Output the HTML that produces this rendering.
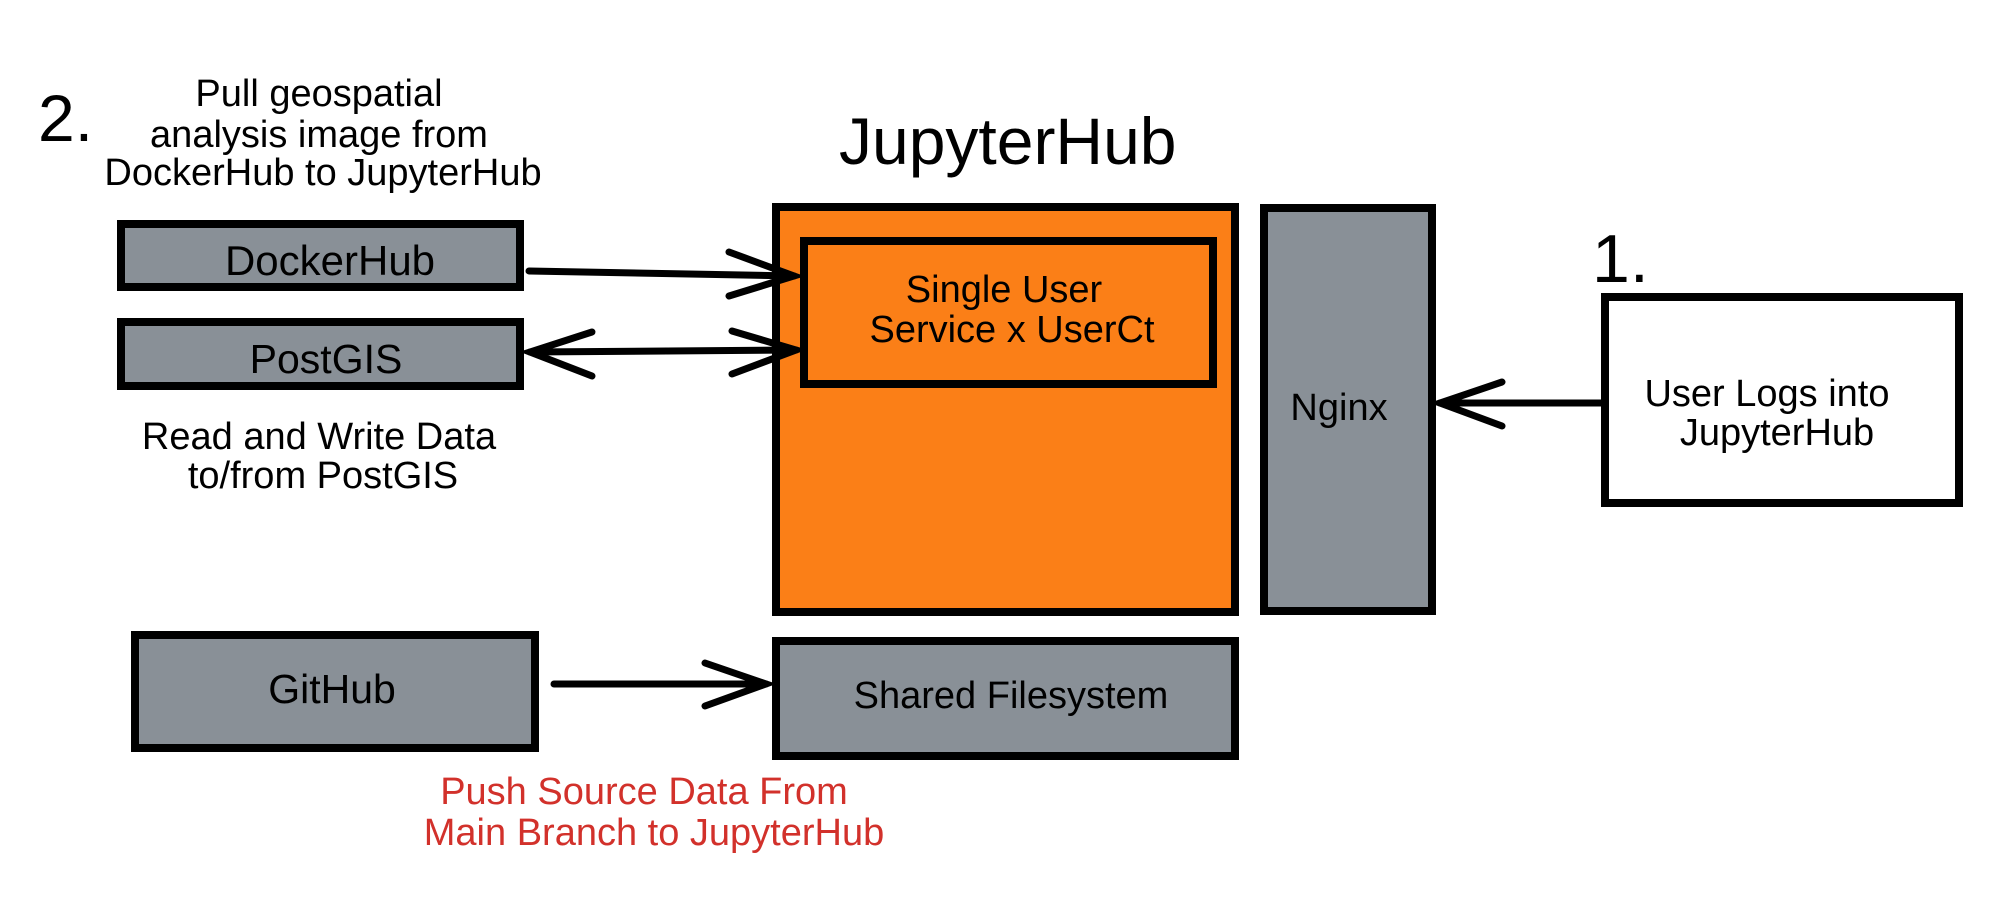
<!DOCTYPE html>
<html><head><meta charset="utf-8"><style>
html,body{margin:0;padding:0;background:#fff;}
svg{display:block;}
text{font-family:"Liberation Sans",Arial,sans-serif;}
</style></head><body>
<svg width="1996" height="902" viewBox="0 0 1996 902" xmlns="http://www.w3.org/2000/svg">
<rect width="1996" height="902" fill="#fff"/>
<g stroke="#000" stroke-width="8">
<rect x="121" y="224" width="399" height="63" fill="#899097"/>
<rect x="121" y="322" width="399" height="64" fill="#899097"/>
<rect x="135" y="635" width="400" height="113" fill="#899097"/>
<rect x="776" y="207" width="459" height="405" fill="#fb7f17"/>
<rect x="804" y="241" width="409" height="143" fill="#fb7f17"/>
<rect x="1264" y="208" width="168" height="403" fill="#899097"/>
<rect x="776" y="641" width="459" height="115" fill="#899097"/>
<rect x="1605" y="297" width="354" height="206" fill="#fff"/>
</g>
<g stroke="#000" stroke-width="7" fill="none" stroke-linecap="round">
<line x1="529" y1="271" x2="794" y2="276"/>
<polyline points="729,252 794,276 729,296"/>
<line x1="530" y1="352" x2="796" y2="350"/>
<polyline points="592,332 530,352 592,376"/>
<polyline points="732,331 796,350 732,374"/>
<line x1="554" y1="684" x2="766" y2="684"/>
<polyline points="705,663 766,684 705,706"/>
<line x1="1601" y1="403" x2="1440" y2="403"/>
<polyline points="1502,382 1440,403 1502,426"/>
</g>
<g fill="#000">
<text x="38" y="141" font-size="66">2.</text>
<text x="1592" y="282" font-size="68">1.</text>
<text x="839" y="164" font-size="66">JupyterHub</text>
<g font-size="38" text-anchor="middle">
<text x="319" y="106">Pull geospatial</text>
<text x="319" y="147">analysis image from</text>
<text x="323" y="185">DockerHub to JupyterHub</text>
<text x="330" y="275" font-size="42">DockerHub</text>
<text x="326" y="373" font-size="41">PostGIS</text>
<text x="319" y="449">Read and Write Data</text>
<text x="323" y="488">to/from PostGIS</text>
<text x="332" y="703" font-size="41">GitHub</text>
<text x="1004" y="302">Single User</text>
<text x="1012" y="342">Service x UserCt</text>
<text x="1339" y="420">Nginx</text>
<text x="1011" y="708">Shared Filesystem</text>
<text x="1767" y="406">User Logs into</text>
<text x="1777" y="445">JupyterHub</text>
<text x="644" y="804" fill="#d2312b">Push Source Data From</text>
<text x="654" y="845" fill="#d2312b">Main Branch to JupyterHub</text>
</g>
</g>
</svg>
</body></html>
